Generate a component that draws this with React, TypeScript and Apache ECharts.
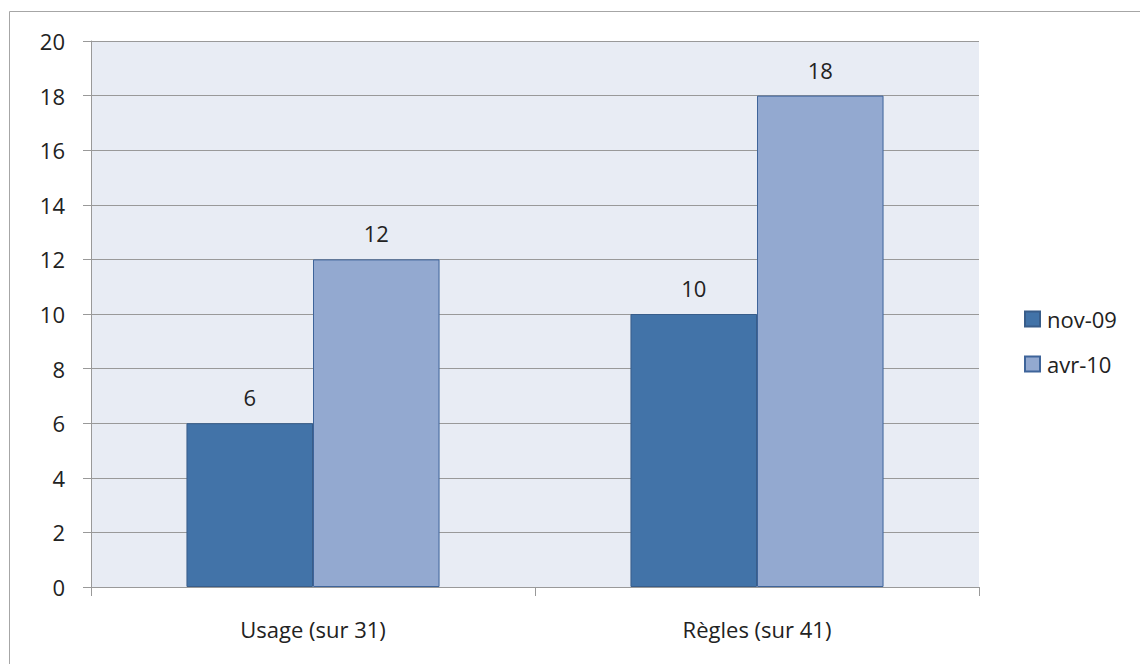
import React, { useEffect, useRef } from "react";
import * as echarts from "echarts";

const categories = ["Usage (sur 31)", "Règles (sur 41)"];
const seriesNames = ["nov-09", "avr-10"];
const nov09 = [6, 10];
const avr10 = [12, 18];
const yTicks = { min: 0, max: 20, interval: 2 };

const FONT = "'Open Sans', 'Noto Sans', sans-serif";
const FS = 22;

export default function App() {
  const ref = useRef<HTMLDivElement>(null);
  useEffect(() => {
    if (!ref.current) return;
    const chart = echarts.init(ref.current, undefined, { renderer: "svg" });
    const label = {
      show: true,
      position: "top" as const,
      distance: 15,
      color: "#222",
      fontSize: FS,
      fontFamily: FONT,
    };
    chart.setOption({
      animation: false,
      backgroundColor: "#fff",
      textStyle: { fontFamily: FONT },
      graphic: [
        {
          type: "rect",
          shape: { x: 9.5, y: 11.5, width: 1140, height: 660 },
          style: { fill: "none", stroke: "#a6a6a6", lineWidth: 1 },
          silent: true,
        },
      ],
      grid: { left: 91, right: 161, top: 41, bottom: 77, show: true, backgroundColor: "#E8ECF4", borderWidth: 0 },
      legend: {
        orient: "vertical",
        left: 1019,
        top: 303,
        itemWidth: 15,
        itemHeight: 15,
        itemGap: 23,
        icon: "rect",
        textStyle: { color: "#222", fontSize: FS, fontFamily: FONT, padding: [0, 0, 0, 2] },
        data: seriesNames,
      },
      xAxis: {
        type: "category",
        data: categories,
        axisLine: { lineStyle: { color: "#999", width: 1 } },
        axisTick: { show: true, length: 9, lineStyle: { color: "#999" } },
        axisLabel: { color: "#222", fontSize: FS, fontFamily: FONT, margin: 31 },
      },
      yAxis: {
        type: "value",
        min: yTicks.min,
        max: yTicks.max,
        interval: yTicks.interval,
        axisLine: { show: true, lineStyle: { color: "#999", width: 1 } },
        axisTick: { show: true, length: 8, lineStyle: { color: "#999" } },
        axisLabel: { color: "#222", fontSize: FS, fontFamily: FONT, margin: 26 },
        splitLine: { lineStyle: { color: "#999", width: 1 } },
      },
      series: [
        {
          name: seriesNames[0],
          type: "bar",
          data: nov09,
          barGap: "0%",
          barCategoryGap: "43%",
          itemStyle: { color: "#4273A8", borderColor: "#385D8A", borderWidth: 1 },
          label,
        },
        {
          name: seriesNames[1],
          type: "bar",
          data: avr10,
          itemStyle: { color: "#93A9D0", borderColor: "#3E649A", borderWidth: 1 },
          label,
        },
      ],
    });
    return () => chart.dispose();
  }, []);
  return (
    <div
      ref={ref}
      style={{ position: "fixed", left: 0, top: 0, width: 1140, height: 664 }}
    />
  );
}
